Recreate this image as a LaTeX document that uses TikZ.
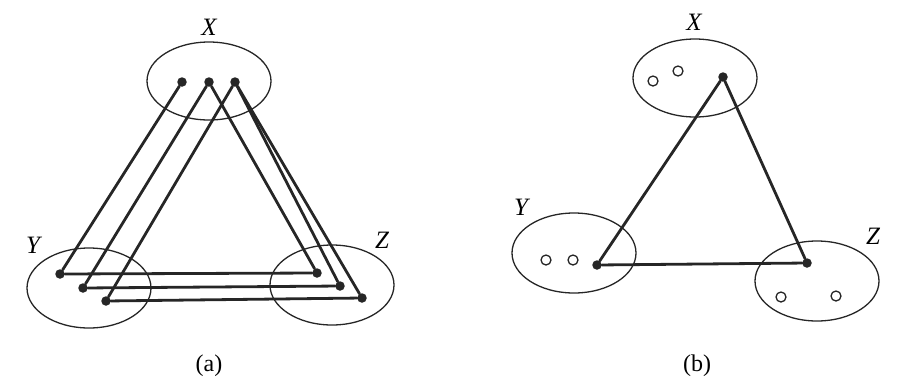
\documentclass[tikz,border=0pt]{standalone}
\usepackage{fontspec}
\setmainfont{Liberation Serif}
\usetikzlibrary{shapes.geometric}

\begin{document}
\begin{tikzpicture}[
 x=1pt,y=-1pt,
 line cap=round,line join=round,
 set/.style={draw=black!85,ellipse,line width=1.3pt,minimum width=124pt,minimum height=78pt,inner sep=0pt},
 dot/.style={circle,fill=black!85,inner sep=0pt,minimum size=9.5pt},
 hole/.style={circle,draw=black!85,line width=1.3pt,fill=white,inner sep=0pt,minimum size=10pt},
 link/.style={draw=black!85,line width=2.8pt},
 lab/.style={font=\fontsize{25}{27}\selectfont\itshape},
 sublab/.style={font=\fontsize{24}{26}\selectfont}]
\path[use as bounding box] (0,0) rectangle (898,384);

\node[set] (xa) at (209,81) {};
\node[set,minimum height=80pt] (ya) at (89,288) {};
\node[set,minimum height=80pt] (za) at (332,285) {};
\node[lab] (xla) at (209,27) {X};
\node[lab] (yla) at (33,245) {Y};
\node[lab] (zla) at (382,240) {Z};
\foreach \n/\xx/\yy in {x1/182/82,x2/209/82,x3/235/82,y1/60/274,y2/83/288,y3/106/301,z1/317/273,z2/340/286,z3/362/298}
  \node[dot] (\n) at (\xx,\yy) {};
\foreach \a/\b in {x1/y1,x2/y2,x3/y3,y1/z1,y2/z2,y3/z3,x2/z1,x3/z2,x3/z3}
  \draw[link] (\a)--(\b);
\node[sublab] (capa) at (209,366) {(a)};

\node[set] (xb) at (695,78) {};
\node[set,minimum height=80pt] (yb) at (574,253) {};
\node[set,minimum height=80pt] (zb) at (817,281) {};
\node[lab] (xlb) at (694,22) {X};
\node[lab] (ylb) at (521,207) {Y};
\node[lab] (zlb) at (873,236) {Z};
\foreach \n/\xx/\yy in {hx1/653/81,hx2/678/71,hy1/546/260,hy2/573/260,hz1/781/297,hz2/836/296}
  \node[hole] (\n) at (\xx,\yy) {};
\foreach \n/\xx/\yy in {xd/723/77,yd/597/265,zd/807/263}
  \node[dot] (\n) at (\xx,\yy) {};
\foreach \a/\b in {xd/yd,yd/zd,zd/xd}
  \draw[link] (\a)--(\b);
\node[sublab] (capb) at (697,366) {(b)};
\end{tikzpicture}
\end{document}
